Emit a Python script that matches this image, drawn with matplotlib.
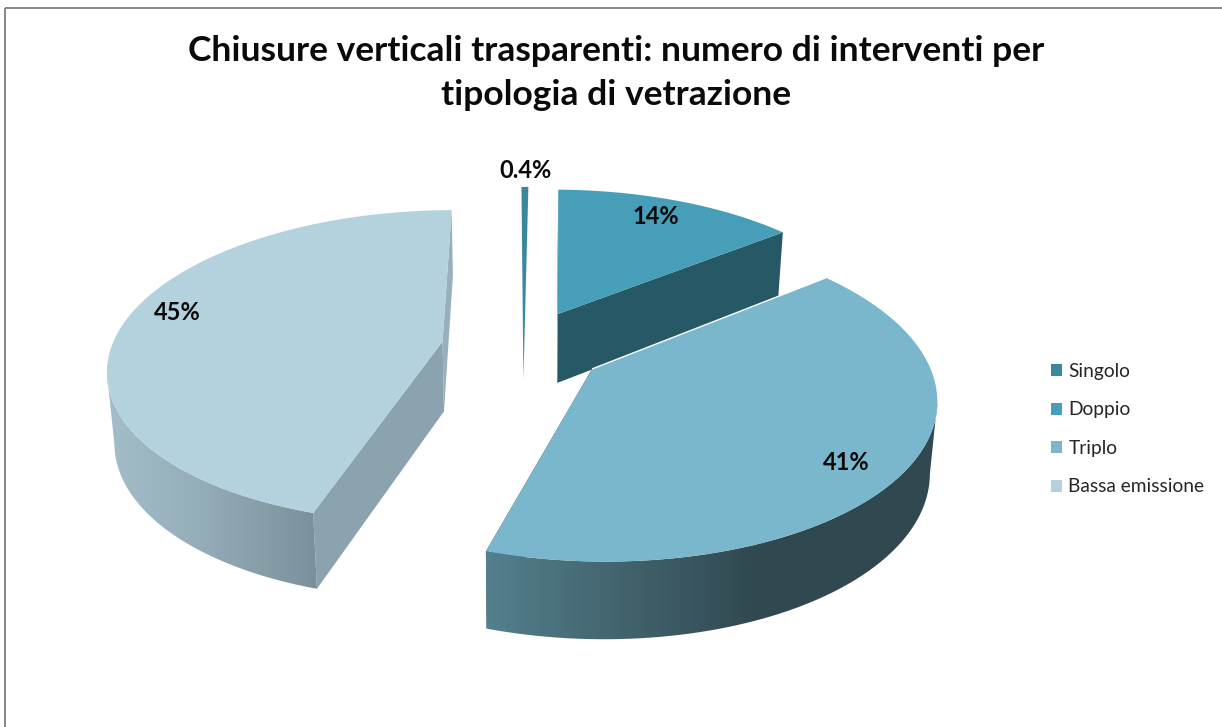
import numpy as np
import matplotlib
matplotlib.use("Agg")
import matplotlib.pyplot as plt
from matplotlib.patches import Polygon, Patch, Rectangle

# ---- data ----
categories = ["Singolo", "Doppio", "Triplo", "Bassa emissione"]
shares = [0.4, 14.0, 40.5, 45.1]
value_labels = ["0.4%", "14%", "41%", "45%"]
title_text = "Chiusure verticali trasparenti: numero di interventi per\ntipologia di vetrazione"

# ---- style ----
top_colors = ["#3a889e", "#469eb8", "#7ab7cc", "#b4d2de"]
first_face_colors = ["#3a889e", "#265866", "#30484f", "#8aa3ae"]
last_face_colors = ["#3a889e", "#265866", "#30484f", "#97b0bb"]
rim_stops = [
    None,
    None,
    [(485, "#54808f"), (600, "#456872"), (760, "#30484f"), (940, "#30484f")],
    [(108, "#a3bdc9"), (200, "#94adb9"), (316, "#7b909a"), (460, "#7b909a")],
]
label_xy = [(526, 170), (656, 216), (846, 463), (177, 313)]

# projection of the pie plane onto the picture (perspective view)
X0, Y0, A, B, K, EXPLODE = 523.0, 347.0, 331.0, 154.0, 0.16, 0.247
START = np.deg2rad(-0.4)


def project(u, v):
    w = 1 + K * v
    return X0 + A * u / w, Y0 - B * v / w


def project_low(u, v):
    x, y = project(u, v)
    vw = v / (1 + K * v)
    return X0 + (x - X0) * 0.982, y + 70 - 5.5 * vw


fig = plt.figure(figsize=(12.22, 7.27), dpi=100)
ax = fig.add_axes([0, 0, 1, 1])
ax.axis("off")
ax.add_patch(Rectangle((5, 8), 1240, 740, fill=False, ec="#868686", lw=1.4, zorder=0))

edges = START + np.concatenate([[0], np.cumsum(shares)]) / np.sum(shares) * 2 * np.pi
order = [0, 1, 3, 2]
z = 1

for i in order:
    a0, a1 = edges[i], edges[i + 1]
    mid = (a0 + a1) / 2
    ux, vy = EXPLODE * np.sin(mid), EXPLODE * np.cos(mid)
    th = np.linspace(a0, a1, 240)
    us, vs = ux + np.sin(th), vy + np.cos(th)
    top = np.array([project(u, v) for u, v in zip(us, vs)])
    low = np.array([project_low(u, v) for u, v in zip(us, vs)])
    apex = np.array(project(ux, vy))
    apex_low = np.array(project_low(ux, vy))

    if categories[i] == "Singolo":
        # the thin sliver reads as one clean taper
        ax.add_patch(Polygon(np.vstack([apex_low, top]), fc=top_colors[i], ec="none", zorder=z))
        z += 1
        continue

    # the two cut faces, behind the rim
    ax.add_patch(Polygon([apex, top[0], low[0], apex_low], fc=first_face_colors[i], ec="none", zorder=z))
    ax.add_patch(Polygon([apex, top[-1], low[-1], apex_low], fc=last_face_colors[i], ec="none", zorder=z))
    z += 1

    # the rim: only where the arc runs right to left, i.e. on the near side
    near = np.where(np.diff(top[:, 0]) < 0)[0]
    if rim_stops[i] is not None and len(near):
        a, b = near[0], near[-1] + 1
        outline = np.vstack([top[a:b + 1], low[a:b + 1][::-1]])
        clip = Polygon(outline, transform=ax.transData, fc="none", ec="none")
        ax.add_patch(clip)
        cmap_x = np.linspace(outline[:, 0].min() - 1, outline[:, 0].max() + 1, 600)
        sx = [s[0] for s in rim_stops[i]]
        sc = np.array([matplotlib.colors.to_rgb(s[1]) for s in rim_stops[i]])
        grad = np.stack([np.interp(cmap_x, sx, sc[:, c]) for c in range(3)], axis=-1)[None, :, :]
        im = ax.imshow(grad, extent=(cmap_x[0], cmap_x[-1], outline[:, 1].max() + 1, outline[:, 1].min() - 1),
                       aspect="auto", interpolation="bilinear", zorder=z)
        im.set_clip_path(clip)
        z += 1

    # the top face
    ax.add_patch(Polygon(np.vstack([apex, top]), fc=top_colors[i], ec="none", zorder=z))
    z += 1
    if categories[i] == "Triplo":
        ax.plot([apex[0], top[0, 0]], [apex[1], top[0, 1]], color="white", lw=1.0,
                solid_capstyle="butt", zorder=z)
        z += 1

ax.set_xlim(0, 1222)
ax.set_ylim(727, 0)

for (x, y), s in zip(label_xy, value_labels):
    ax.text(x, y, s, ha="center", va="center", fontsize=17, fontweight="bold",
            family="Lato", color="#0a0a0a", zorder=z)

ax.text(616, 73, title_text, ha="center", va="center", fontsize=25.5, fontweight="bold",
        family="Lato", color="#0a0a0a", linespacing=1.43, zorder=z)

handles = [Patch(fc=c, ec="none", label=n) for c, n in zip(top_colors, categories)]
ax.legend(handles=handles, loc="upper left", bbox_to_anchor=(1051 / 1222, 1 - 363 / 727),
          frameon=False, labelspacing=1.12, handlelength=0.58, handleheight=0.58,
          handletextpad=0.33, borderpad=0, borderaxespad=0, labelcolor="#262626",
          prop={"family": "Lato", "size": 13.8})

fig.savefig("out.png", dpi=100, facecolor="white")
